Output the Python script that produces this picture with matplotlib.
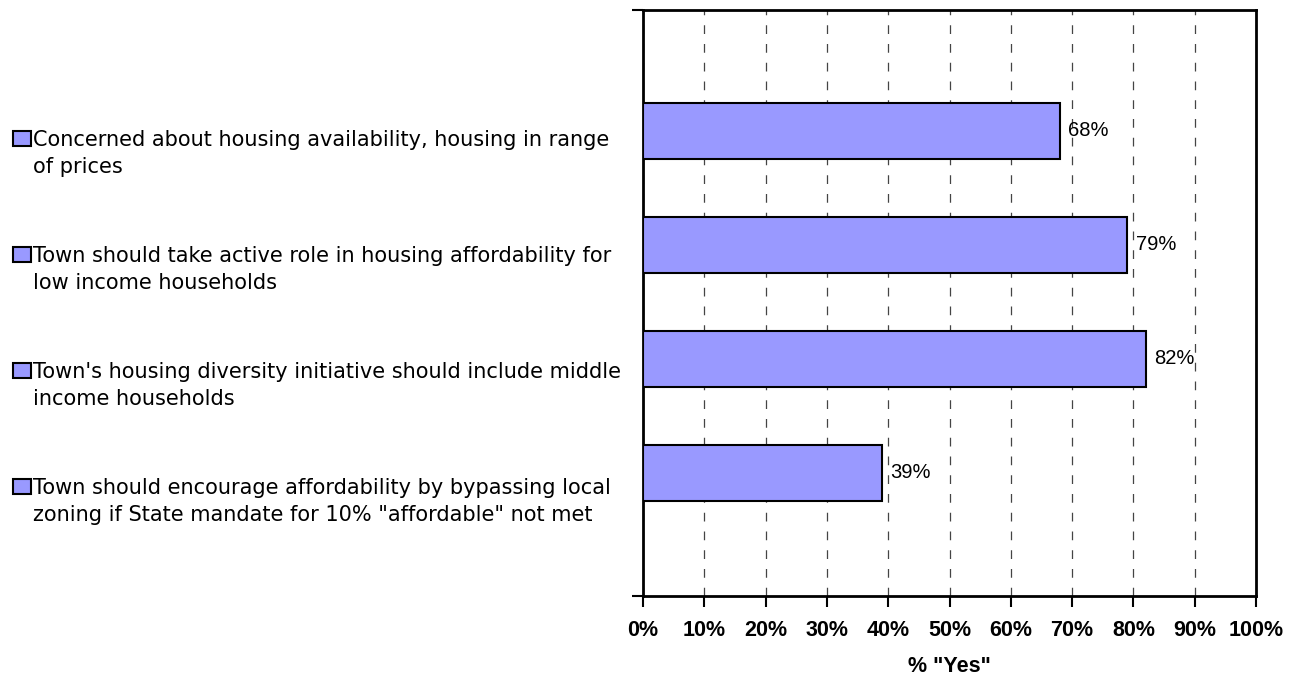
import matplotlib
matplotlib.use("Agg")
import matplotlib.pyplot as plt
from matplotlib.patches import Rectangle

categories = [
    "Concerned about housing availability, housing in range\nof prices",
    "Town should take active role in housing affordability for\nlow income households",
    "Town's housing diversity initiative should include middle\nincome households",
    "Town should encourage affordability by bypassing local\nzoning if State mandate for 10% \"affordable\" not met",
]
values = [68, 79, 82, 39]
xticks = [0, 10, 20, 30, 40, 50, 60, 70, 80, 90, 100]
xlabel = '% "Yes"'

bar_color = "#9999FF"
plt.rcParams['font.family'] = ['Liberation Sans', 'DejaVu Sans']

W, H = 1302, 675
fig = plt.figure(figsize=(W / 100, H / 100), dpi=100)
ax = fig.add_axes([643 / W, 1 - 596 / H, (1256 - 643) / W, (596 - 10) / H])

ypos = list(range(len(values)))
ax.barh(ypos, values, height=0.49, color=bar_color, edgecolor="black", linewidth=1.5, zorder=3)
for y, v in zip(ypos, values):
    ax.text(v + 1.4, y, f"{v}%", va="center", ha="left", fontsize=14.5, zorder=4)

ax.set_xlim(0, 100)
ax.set_ylim(4.08, -1.06)
ax.set_xticks(xticks)
ax.set_xticklabels([f"{t}%" for t in xticks], fontsize=15.5, fontweight="bold")
ax.set_yticks([4.08, -1.06])
ax.set_yticklabels([])
ax.tick_params(axis="x", direction="out", length=8, width=1.5, pad=9)
ax.tick_params(axis="y", direction="out", length=8, width=1.5)
ax.xaxis.grid(True, linestyle=(0, (7, 8)), color="#444444", linewidth=0.9, zorder=0)
for s in ax.spines.values():
    s.set_linewidth(2)
ax.set_xlabel(xlabel, fontsize=15.5, fontweight="bold")
ax.xaxis.set_label_coords(0.5, (596 - 666) / 586)
ax.xaxis.label.set_va("center")

# legend-like labels on the left (baselines in figure pixels from top)
first_baseline = 146
step = 116
line_gap = 27
for i, lab in enumerate(categories):
    base_px = first_baseline + step * i
    for j, line in enumerate(lab.split("\n")):
        fig.text(33 / W, 1 - (base_px + j * line_gap) / H, line, fontsize=15,
                 va="baseline", ha="left", family="DejaVu Sans",
                 transform=fig.transFigure)
    fig.patches.append(Rectangle((13 / W, 1 - base_px / H), 18 / W, 15 / H,
                                 transform=fig.transFigure, facecolor=bar_color,
                                 edgecolor="black", linewidth=1.5))

fig.savefig("out.png", dpi=100)
